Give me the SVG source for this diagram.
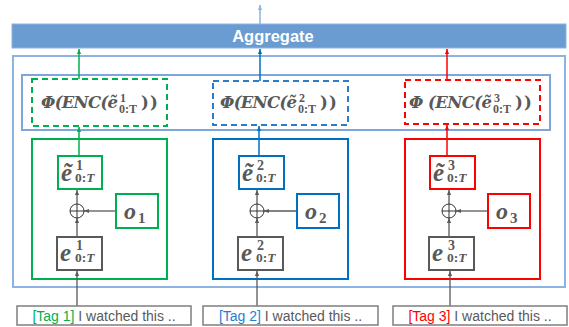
<svg xmlns="http://www.w3.org/2000/svg" width="569" height="327" viewBox="0 0 569 327">
<style>
.math{font-family:"Liberation Serif","DejaVu Serif",serif;font-weight:bold;font-style:italic;fill:#595959}
.fm{font-family:"DejaVu Serif","Liberation Serif",serif;font-weight:bold;font-style:italic;fill:#595959;font-size:16.5px}
.sc{font-family:"Liberation Serif","DejaVu Serif",serif;font-style:normal;font-size:12px}
.num{font-family:"Liberation Serif","DejaVu Serif",serif;font-weight:bold;font-style:normal;fill:#595959}
.tag{font-family:"Liberation Sans",Arial,sans-serif;font-size:14px;fill:#595959}
.dash{fill:#fff;stroke-width:2;stroke-dasharray:6 4}
.solid{fill:none;stroke-width:2}
.gbox{fill:#fff;stroke:#595959;stroke-width:2}
.tbox{fill:#fff;stroke:#7f7f7f;stroke-width:1.5}
.gline{stroke:#595959;stroke-width:1.3;fill:none}
</style>
<defs>
<marker id="aK" markerUnits="userSpaceOnUse" markerWidth="5" markerHeight="5" viewBox="0 0 6 6" refX="6" refY="3" orient="auto"><path d="M0,0.5 L6,3 L0,5.5 z" fill="#595959"/></marker>
<marker id="aG" markerUnits="userSpaceOnUse" markerWidth="5" markerHeight="5" viewBox="0 0 6 6" refX="6" refY="3" orient="auto"><path d="M0,0.5 L6,3 L0,5.5 z" fill="#00b050"/></marker>
<marker id="aB" markerUnits="userSpaceOnUse" markerWidth="5" markerHeight="5" viewBox="0 0 6 6" refX="6" refY="3" orient="auto"><path d="M0,0.5 L6,3 L0,5.5 z" fill="#0070c0"/></marker>
<marker id="aR" markerUnits="userSpaceOnUse" markerWidth="5" markerHeight="5" viewBox="0 0 6 6" refX="6" refY="3" orient="auto"><path d="M0,0.5 L6,3 L0,5.5 z" fill="#ff0000"/></marker>
<marker id="aL" markerUnits="userSpaceOnUse" markerWidth="5" markerHeight="5" viewBox="0 0 6 6" refX="6" refY="3" orient="auto"><path d="M0,0.5 L6,3 L0,5.5 z" fill="#8db3e2"/></marker>
</defs>
<rect width="569" height="327" fill="#fff"/>

<g id="outer-box"><rect x="13" y="56" width="552" height="231" fill="none" stroke="#8db3e2" stroke-width="2"/></g>
<g id="aggregate">
<rect x="12" y="24" width="554" height="24" fill="#6a9bd1" stroke="#8fb4e0" stroke-width="1"/>
<text x="273" y="42" text-anchor="middle" font-family="Liberation Sans,Arial,sans-serif" font-weight="bold" font-size="16.5" fill="#fff">Aggregate</text>
</g>
<g id="encoder-band"><rect x="22" y="75" width="528" height="55" fill="#fff" stroke="#7ea6d8" stroke-width="2"/></g>

<!-- dashed encoder boxes -->
<g id="enc1">
<rect class="dash" x="32" y="79" width="135" height="47" stroke="#00b050"/>
<text class="fm" x="41" y="108"><tspan textLength="77" lengthAdjust="spacing">Φ(ENC(ẽ</tspan><tspan class="sc" x="120" y="102">1</tspan><tspan class="sc" x="119" y="113">0:</tspan><tspan class="sc" font-style="italic">T</tspan><tspan x="141 150" y="108" font-style="normal">))</tspan></text>
</g>
<g id="enc2">
<rect class="dash" x="213" y="81" width="135" height="44" stroke="#2a7ccc"/>
<text class="fm" x="220" y="108"><tspan textLength="77" lengthAdjust="spacing">Φ(ENC(ẽ</tspan><tspan class="sc" x="299" y="102">2</tspan><tspan class="sc" x="298" y="113">0:</tspan><tspan class="sc" font-style="italic">T</tspan><tspan x="320 329" y="108" font-style="normal">))</tspan></text>
</g>
<g id="enc3">
<rect class="dash" x="405" y="80" width="135" height="44" stroke="#ff0000"/>
<text class="fm" x="409" y="108"><tspan textLength="83" lengthAdjust="spacing">Φ (ENC(ẽ</tspan><tspan class="sc" x="494" y="102">3</tspan><tspan class="sc" x="493" y="113">0:</tspan><tspan class="sc" font-style="italic">T</tspan><tspan x="515 524" y="108" font-style="normal">))</tspan></text>
</g>

<!-- column containers -->
<g id="col1"><rect class="solid" x="32" y="139" width="135" height="140" stroke="#00b050"/></g>
<g id="col2"><rect class="solid" x="213" y="139" width="135" height="140" stroke="#0070c0"/></g>
<g id="col3"><rect class="solid" x="405" y="139" width="135" height="140" stroke="#ff0000"/></g>

<!-- connectors -->
<g id="connectors">
<line x1="260" y1="24" x2="260" y2="5" stroke="#8db3e2" stroke-width="1.5" marker-end="url(#aL)"/>
<line x1="79" y1="79" x2="79" y2="49" stroke="#00b050" stroke-width="1.5" marker-end="url(#aG)"/>
<line x1="260" y1="81" x2="260" y2="49" stroke="#0070c0" stroke-width="1.5" marker-end="url(#aB)"/>
<line x1="447" y1="80" x2="447" y2="49" stroke="#ff0000" stroke-width="1.5" marker-end="url(#aR)"/>
<line x1="79" y1="156" x2="79" y2="127" stroke="#00b050" stroke-width="1.5" marker-end="url(#aG)"/>
<line x1="259" y1="156" x2="259" y2="126" stroke="#0070c0" stroke-width="1.5" marker-end="url(#aB)"/>
<line x1="447" y1="156" x2="447" y2="125" stroke="#ff0000" stroke-width="1.5" marker-end="url(#aR)"/>

<line class="gline" x1="77" y1="306" x2="77" y2="271" marker-end="url(#aK)"/>
<line class="gline" x1="77" y1="237" x2="77" y2="218" marker-end="url(#aK)"/>
<line class="gline" x1="77" y1="204" x2="77" y2="190" marker-end="url(#aK)"/>
<line class="gline" x1="116" y1="211" x2="84" y2="211" marker-end="url(#aK)"/>

<line class="gline" x1="257" y1="306" x2="257" y2="271" marker-end="url(#aK)"/>
<line class="gline" x1="257" y1="237" x2="257" y2="218" marker-end="url(#aK)"/>
<line class="gline" x1="257" y1="204" x2="257" y2="190" marker-end="url(#aK)"/>
<line class="gline" x1="297" y1="211" x2="264" y2="211" marker-end="url(#aK)"/>

<line class="gline" x1="450" y1="306" x2="450" y2="271" marker-end="url(#aK)"/>
<line class="gline" x1="449" y1="237" x2="449" y2="218" marker-end="url(#aK)"/>
<line class="gline" x1="449" y1="204" x2="449" y2="190" marker-end="url(#aK)"/>
<line class="gline" x1="488" y1="211" x2="456" y2="211" marker-end="url(#aK)"/>
</g>

<!-- column 1 nodes -->
<g id="et1">
<rect x="58" y="156" width="44" height="33" fill="#fff" stroke="#00b050" stroke-width="2"/>
<text class="math" x="61" y="181" font-size="25">ẽ</text>
<text class="num" x="76" y="170" font-size="14">1<tspan x="75" y="182" font-size="13.5">0:</tspan><tspan font-size="13.5" font-style="italic">T</tspan></text>
</g>
<g id="plus1"><circle cx="77" cy="211" r="7" fill="#fff" stroke="#333" stroke-width="1"/><path d="M70,211 H84 M77,204 V218" stroke="#333" stroke-width="1"/></g>
<g id="o1">
<rect x="116" y="194" width="42" height="34" fill="#fff" stroke="#00b050" stroke-width="2"/>
<text class="math" x="124" y="219" font-size="24">o</text>
<text class="num" x="138" y="223" font-size="15">1</text>
</g>
<g id="e1">
<rect class="gbox" x="57" y="237" width="45" height="33"/>
<text class="math" x="60" y="261" font-size="25">e</text>
<text class="num" x="76" y="250" font-size="14">1<tspan x="75" y="262" font-size="13.5">0:</tspan><tspan font-size="13.5" font-style="italic">T</tspan></text>
</g>

<!-- column 2 nodes -->
<g id="et2">
<rect x="239" y="156" width="45" height="33" fill="#fff" stroke="#0070c0" stroke-width="2"/>
<text class="math" x="242" y="181" font-size="25">ẽ</text>
<text class="num" x="257" y="170" font-size="14">2<tspan x="256" y="182" font-size="13.5">0:</tspan><tspan font-size="13.5" font-style="italic">T</tspan></text>
</g>
<g id="plus2"><circle cx="257" cy="211" r="7" fill="#fff" stroke="#333" stroke-width="1"/><path d="M250,211 H264 M257,204 V218" stroke="#333" stroke-width="1"/></g>
<g id="o2">
<rect x="297" y="194" width="42" height="34" fill="#fff" stroke="#0070c0" stroke-width="2"/>
<text class="math" x="305" y="219" font-size="24">o</text>
<text class="num" x="319" y="223" font-size="15">2</text>
</g>
<g id="e2">
<rect class="gbox" x="238" y="237" width="45" height="33"/>
<text class="math" x="241" y="261" font-size="25">e</text>
<text class="num" x="257" y="250" font-size="14">2<tspan x="256" y="262" font-size="13.5">0:</tspan><tspan font-size="13.5" font-style="italic">T</tspan></text>
</g>

<!-- column 3 nodes -->
<g id="et3">
<rect x="430" y="156" width="45" height="33" fill="#fff" stroke="#ff0000" stroke-width="2"/>
<text class="math" x="433" y="181" font-size="25">ẽ</text>
<text class="num" x="448" y="170" font-size="14">3<tspan x="447" y="182" font-size="13.5">0:</tspan><tspan font-size="13.5" font-style="italic">T</tspan></text>
</g>
<g id="plus3"><circle cx="449" cy="211" r="7" fill="#fff" stroke="#333" stroke-width="1"/><path d="M442,211 H456 M449,204 V218" stroke="#333" stroke-width="1"/></g>
<g id="o3">
<rect x="488" y="194" width="42" height="34" fill="#fff" stroke="#ff0000" stroke-width="2"/>
<text class="math" x="496" y="219" font-size="24">o</text>
<text class="num" x="510" y="223" font-size="15">3</text>
</g>
<g id="e3">
<rect class="gbox" x="429" y="237" width="45" height="33"/>
<text class="math" x="432" y="261" font-size="25">e</text>
<text class="num" x="448" y="250" font-size="14">3<tspan x="447" y="262" font-size="13.5">0:</tspan><tspan font-size="13.5" font-style="italic">T</tspan></text>
</g>

<!-- input tags -->
<g id="tag1"><rect class="tbox" x="17" y="306" width="174" height="19"/>
<text class="tag" x="104" y="321" text-anchor="middle"><tspan fill="#00b050">[Tag 1]</tspan> I watched this ..</text></g>
<g id="tag2"><rect class="tbox" x="203" y="306" width="175" height="19"/>
<text class="tag" x="290.5" y="321" text-anchor="middle"><tspan fill="#1f7fd6">[Tag 2]</tspan> I watched this ..</text></g>
<g id="tag3"><rect class="tbox" x="393" y="306" width="174" height="19"/>
<text class="tag" x="480" y="321" text-anchor="middle"><tspan fill="#ff0000">[Tag 3]</tspan> I watched this ..</text></g>
</svg>
